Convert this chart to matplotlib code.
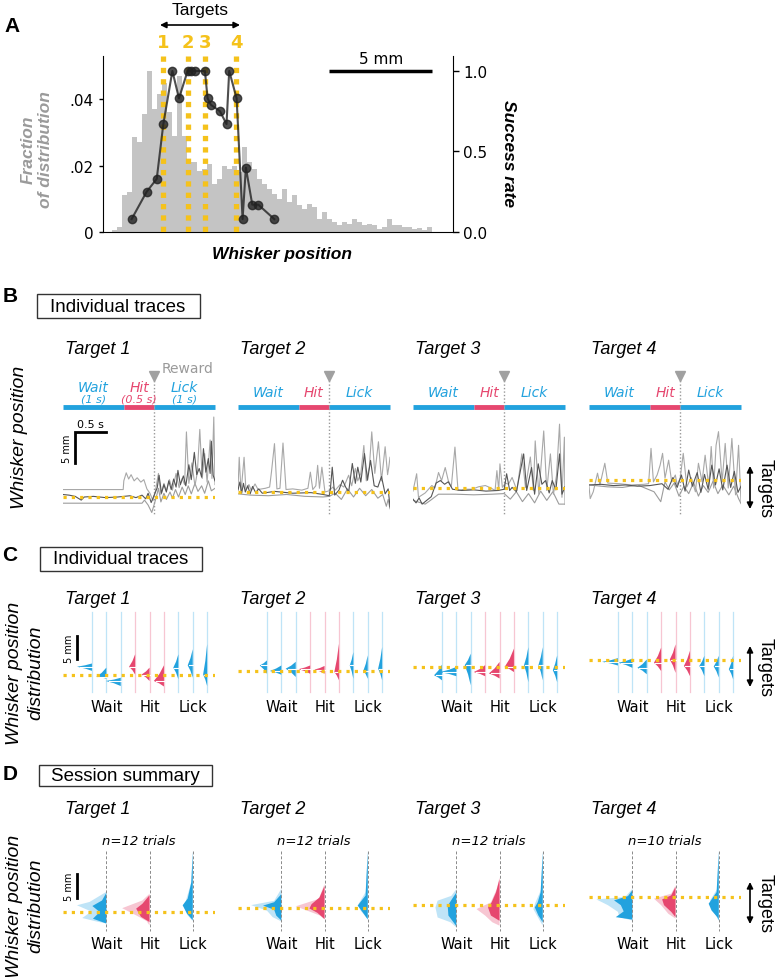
import numpy as np
import matplotlib.pyplot as plt
from matplotlib.patches import Rectangle, Polygon

W, H = 775, 978
BLUE = '#22a2de'
PINK = '#e6476f'
LBLUE = '#bfe4f7'
LPINK = '#f7c6d2'
GOLD = '#f5c21b'
HEAD = 'Liberation Sans'
BODY = 'DejaVu Sans'

plt.rcParams['font.family'] = [HEAD, 'DejaVu Sans']

# ---------------- panel A data (whisker position in mm)
hist_left = 0.42
hist_step = 0.243
hist_frac = np.array([5, 15, 110, 120, 285, 270, 355, 485, 370, 415, 450, 360, 290, 470, 290, 210,
                      210, 185, 190, 205, 145, 160, 200, 190, 200, 180, 255, 210, 190, 160, 145, 130,
                      115, 100, 130, 90, 110, 80, 70, 85, 75, 40, 60, 40, 30, 20, 30, 25,
                      40, 30, 20, 25, 20, 10, 15, 40, 20, 20, 15, 15, 10, 12, 5, 15]) * 1e-4
succ_pos = [1.39, 2.12, 2.61, 2.93, 3.37, 3.69, 4.11, 4.27, 4.47, 4.95, 5.08,
            5.24, 5.68, 6.00, 6.13, 6.49, 6.78, 6.94, 7.25, 7.54, 8.32]
succ_rate = [0.08, 0.25, 0.33, 0.67, 1.0, 0.83, 1.0, 1.0, 1.0, 1.0, 0.83,
             0.79, 0.75, 0.67, 1.0, 0.83, 0.08, 0.40, 0.17, 0.17, 0.08]
target_pos = [2.90, 4.14, 4.95, 6.46]
target_names = ['1', '2', '3', '4']

# ---------------- panel B data: (time s, position mm relative to target)
phase_names = ['Wait', 'Hit', 'Lick']
phase_edges = [0, 1.0, 1.5, 2.5]
phase_dur = ['(1 s)', '(0.5 s)', '(1 s)']
reward_t = 1.5

t1_a = [(0, 1.2), (0.99, 1.2), (1.0, 2.6), (1.04, 3.9), (1.08, 2.9), (1.12, 3.6), (1.17, 2.6), (1.22, 3.1),
        (1.28, 2.4), (1.33, 2.8), (1.38, 1.3), (1.43, 0.6), (1.48, -0.6), (1.52, 1.0), (1.57, 3.8), (1.61, 0.4),
        (1.66, 2.2), (1.7, 1.0), (1.75, 2.8), (1.8, 1.1), (1.86, 3.8), (1.91, 1.5), (1.96, 3.0), (2.0, 2.0),
        (2.03, 10.5), (2.07, 2.2), (2.12, 5.5), (2.17, 1.8), (2.21, 4.0), (2.25, 10.9), (2.29, 3.0), (2.33, 7.0),
        (2.37, 2.4), (2.42, 9.2), (2.45, 3.0), (2.48, 12.9), (2.5, 2.0)]
t1_b = [(0, 0.4), (0.1, 0.3), (0.2, 0.1), (0.3, -0.5), (0.35, 0.0), (0.5, 0.1), (0.7, -0.1), (0.9, 0.0),
        (1.1, 0.2), (1.2, -0.1), (1.3, 0.3), (1.36, -0.3), (1.4, 0.6), (1.45, -0.9), (1.5, 0.3), (1.55, 1.5),
        (1.58, 3.5), (1.62, 0.6), (1.66, 2.0), (1.7, 0.8), (1.74, 2.6), (1.78, 1.2), (1.82, 2.9), (1.86, 1.6),
        (1.89, 4.3), (1.93, 2.0), (1.98, 3.4), (2.02, 1.8), (2.07, 5.2), (2.11, 2.8), (2.16, 7.2), (2.2, 3.6),
        (2.24, 4.6), (2.28, 3.2), (2.31, 7.8), (2.35, 4.0), (2.39, 6.2), (2.42, 3.8), (2.44, 9.0), (2.47, 3.5),
        (2.5, 2.6)]
t1_c = [(0, -1.0), (1.3, -1.0), (1.34, -0.5), (1.4, -1.3), (1.46, -2.5), (1.5, -1.2), (1.54, 0.2), (1.57, 1.4),
        (1.61, -0.8), (1.66, 0.6), (1.7, -0.4), (1.76, 0.8), (1.8, -0.2), (1.85, 1.2), (1.9, 0.0), (1.96, 1.6),
        (2.01, 0.4), (2.06, 1.8), (2.11, 0.5), (2.17, 2.2), (2.22, 0.9), (2.28, 1.8), (2.33, 0.6), (2.39, 2.6),
        (2.44, 1.0), (2.5, 1.4)]

t2_a = [(0, 0.5), (0.02, 5.6), (0.05, 0.0), (0.1, 5.6), (0.13, 0.3), (0.18, 1.2), (0.22, 0.2), (0.28, 1.3),
        (0.33, 0.4), (0.45, 0.6), (0.52, 0.8), (0.55, 3.2), (0.6, 7.8), (0.64, 0.5), (0.69, 0.6), (0.74, 7.9),
        (0.79, 0.4), (0.9, 0.5), (1.05, 0.3), (1.15, 0.6), (1.19, 3.2), (1.23, 0.4), (1.28, 1.0), (1.31, 4.3),
        (1.34, 0.6), (1.38, 4.0), (1.43, 0.0), (1.5, 0.2), (1.56, 0.8), (1.6, 0.3), (1.68, 1.2), (1.74, 0.8),
        (1.82, 2.7), (1.87, 1.0), (1.93, 3.8), (1.97, 1.8), (2.02, 3.0), (2.07, 7.5), (2.11, 1.8), (2.16, 4.0),
        (2.2, 9.7), (2.25, 3.0), (2.31, 8.1), (2.36, 1.8), (2.42, 7.3), (2.46, 2.8), (2.48, 4.0), (2.5, 5.6)]
t2_b = [(0, 0.3), (0.03, 1.6), (0.06, -0.2), (0.09, 1.4), (0.12, 0.0), (0.16, 1.0), (0.2, -0.3), (0.24, 0.9),
        (0.29, -0.1), (0.34, 0.5), (0.4, -0.2), (0.6, 0.1), (0.9, -0.2), (1.2, -0.1), (1.4, -0.4), (1.5, -0.6),
        (1.52, 0.5), (1.55, 4.0), (1.59, -0.5), (1.66, 0.3), (1.72, 1.9), (1.77, 0.8), (1.82, 0.0), (1.88, 4.6),
        (1.93, 1.4), (1.97, 4.0), (2.02, 1.6), (2.08, 6.2), (2.13, 1.9), (2.18, 5.1), (2.24, 1.0), (2.3, 0.8),
        (2.36, 2.5), (2.42, -0.3), (2.47, 0.5), (2.5, -2.4)]
t2_c = [(0, -0.3), (0.2, -0.5), (0.5, -0.6), (0.8, -0.4), (1.1, -0.7), (1.4, -0.8), (1.5, -0.7), (1.6, -0.2),
        (1.7, -1.2), (1.8, 0.5), (1.9, -0.8), (2.0, 0.6), (2.1, -0.6), (2.2, 0.4), (2.3, -1.0), (2.38, -0.4),
        (2.44, -2.3), (2.47, -1.2), (2.5, -2.7)]

t3_a = [(0, -0.5), (0.06, 2.3), (0.09, -1.5), (0.2, -0.8), (0.31, 0.4), (0.36, 0.0), (0.42, 2.5), (0.47, 1.2),
        (0.53, 3.3), (0.58, 1.2), (0.63, 0.2), (0.69, 6.6), (0.74, -0.4), (0.85, -0.2), (0.97, -0.2), (1.08, 0.2),
        (1.19, 0.4), (1.28, 0.0), (1.35, -0.4), (1.38, 2.8), (1.41, -0.4), (1.43, 3.9), (1.47, 0.1), (1.52, 0.8),
        (1.57, 0.6), (1.63, 1.7), (1.71, -0.4), (1.79, 5.5), (1.85, 0.1), (1.93, 5.0), (1.98, -0.4), (2.01, 7.6),
        (2.07, -1.0), (2.15, 9.2), (2.2, -0.4), (2.26, 5.5), (2.31, -1.0), (2.36, 2.0), (2.41, 10.3), (2.45, -1.5),
        (2.49, 8.2), (2.5, -2.6)]
t3_b = [(0, -1.8), (0.05, -2.4), (0.1, -1.6), (0.15, -2.6), (0.2, -2.2), (0.3, -1.4), (0.38, 0.8), (0.45, 1.2),
        (0.52, 0.6), (0.58, 1.0), (0.65, -0.2), (0.8, -0.4), (1.0, -0.3), (1.2, -0.5), (1.4, -0.4), (1.5, -0.2),
        (1.54, 2.3), (1.59, -0.4), (1.63, 0.1), (1.7, -0.6), (1.82, 5.5), (1.87, -0.4), (1.95, 3.3), (2.0, -1.0),
        (2.06, 3.9), (2.12, 0.6), (2.18, 1.2), (2.24, -0.8), (2.29, 1.2), (2.35, -0.3), (2.41, 5.5), (2.45, -1.0),
        (2.5, 0.2)]
t3_c = [(0, -2.0), (0.1, -2.3), (0.2, -2.6), (0.3, -1.9), (0.42, -1.0), (0.7, -1.0), (1.0, -1.1), (1.3, -1.0),
        (1.5, -0.9), (1.6, -1.8), (1.7, -0.6), (1.8, -2.2), (1.9, -0.9), (2.0, -2.4), (2.1, -0.5), (2.2, -2.0),
        (2.3, -0.6), (2.4, -2.6), (2.5, -2.6)]

t4_a = [(0, -1.0), (0.02, -3.0), (0.07, -1.9), (0.14, 1.1), (0.18, -0.8), (0.26, 2.7), (0.31, -0.5), (0.5, -0.6),
        (0.7, -0.8), (0.9, -0.7), (0.98, -0.6), (1.02, 5.1), (1.06, -0.3), (1.12, 0.8), (1.17, 2.4), (1.21, 4.3),
        (1.25, 0.3), (1.31, 3.2), (1.36, -0.3), (1.42, 0.8), (1.45, -0.8), (1.5, 0.3), (1.55, 4.3), (1.61, -1.1),
        (1.68, 0.4), (1.75, -1.9), (1.8, 2.7), (1.86, -0.3), (1.91, 4.0), (1.97, -1.1), (2.01, 5.4), (2.05, -1.3),
        (2.09, 5.6), (2.13, 7.8), (2.19, -0.3), (2.24, 5.9), (2.29, -1.3), (2.35, 6.7), (2.41, -2.4), (2.46, 5.6),
        (2.5, -3.5)]
t4_b = [(0, -0.8), (0.2, -0.7), (0.4, -0.9), (0.6, -0.8), (0.8, -1.0), (1.0, -0.9), (1.2, -0.6), (1.3, -1.5),
        (1.38, 0.4), (1.45, -1.2), (1.52, 0.8), (1.58, -1.8), (1.64, 1.6), (1.7, -1.0), (1.78, 1.2), (1.84, -2.0),
        (1.9, 0.9), (1.96, -1.5), (2.02, 2.4), (2.08, -0.8), (2.14, 1.8), (2.2, -1.6), (2.27, 2.4), (2.33, -1.2),
        (2.39, 1.4), (2.45, -2.0), (2.5, -1.0)]
t4_c = [(0, -0.8), (0.3, -1.1), (0.55, -1.2), (0.8, -0.8), (1.07, -1.9), (1.18, -3.5), (1.25, -0.3), (1.32, -1.6),
        (1.4, -0.5), (1.48, -2.6), (1.56, -1.0), (1.64, -2.2), (1.72, -0.4), (1.8, -2.6), (1.88, -0.9), (1.96, -2.0),
        (2.04, -0.2), (2.12, -2.2), (2.2, -0.8), (2.3, -2.4), (2.38, -1.0), (2.46, -3.0), (2.5, -3.8)]

traces = [(t1_a, t1_b, t1_c), (t2_a, t2_b, t2_c), (t3_a, t3_b, t3_c), (t4_a, t4_b, t4_c)]

# ---------------- panel C data: per trial half violin (top, peak, bottom mm, width)
slot_phase = ['Wait'] * 3 + ['Hit'] * 3 + ['Lick'] * 3
c1 = [(2.5, 1.8, 0.9, 1.04), (1.6, -0.4, -0.8, 0.7), (-0.6, -1.3, -2.4, 1.04),
      (4.5, 1.8, 0.1, 0.42), (1.6, 0.1, -1.3, 0.55), (2.1, -1.3, -2.5, 0.7),
      (4.5, 1.6, -0.9, 0.35), (5.6, 2.1, -0.6, 0.35), (6.7, 0.1, -2.4, 0.28)]
c2 = [(2.3, 1.2, -0.6, 0.5), (1.2, 0.0, -0.8, 0.8), (2.0, 0.5, -1.3, 0.7),
      (1.2, 0.4, -0.6, 0.8), (1.1, 0.3, -0.6, 0.7), (5.9, -0.2, -2.0, 0.32),
      (4.1, 1.2, -1.7, 0.25), (3.4, 0.1, -1.7, 0.3), (5.2, 0.5, -2.0, 0.28)]
c3 = [(0.5, -1.8, -2.9, 0.55), (0.0, -1.1, -2.0, 1.15), (2.9, 0.4, -4.0, 0.42),
      (0.4, -1.1, -2.0, 0.79), (1.1, -1.4, -2.5, 0.74), (4.0, 0.0, -1.1, 0.65),
      (4.3, 0.4, -3.3, 0.3), (4.3, 0.4, -2.9, 0.3), (2.5, -0.7, -3.3, 0.3)]
c4 = [(0.4, -0.4, -1.2, 1.1), (0.3, -0.6, -1.7, 0.97), (0.1, -1.7, -3.1, 0.65),
      (2.7, -0.6, -2.4, 0.5), (3.4, 0.1, -2.8, 0.4), (2.0, -1.3, -3.5, 0.42),
      (0.9, -1.3, -3.5, 0.35), (0.9, -1.4, -3.8, 0.35), (0.9, -2.0, -4.2, 0.3)]
violins = [c1, c2, c3, c4]

# ---------------- panel D data: session outline (mm, width) for Wait / Hit / Lick
n_trials = [12, 12, 12, 10]
d1_light = [[(4.2, 0), (2.1, 1.16), (1.4, 2.04), (0.1, 1.04), (-1.25, 1.67), (-1.9, 0.8), (-2.4, 0)],
            [(3.8, 0), (2.4, 0.5), (0.8, 1.9), (-0.7, 0.93), (-1.9, 0.2), (-2.8, 0)],
            [(12.8, 0), (6.2, 0.1), (2.1, 0.5), (1.4, 0.65), (-0.7, 0.35), (-1.9, 0)]]
d1_dark = [[(4.0, 0), (2.4, 0.3), (1.25, 0.97), (0.0, 0.46), (-1.4, 0.93), (-2.4, 0)],
           [(3.5, 0), (1.7, 0.5), (0.7, 0.93), (-1.0, 0.6), (-2.1, 0)],
           [(12.5, 0), (6.2, 0.1), (2.8, 0.35), (1.4, 0.7), (-0.35, 0.4), (-1.7, 0)]]
d2_light = [[(4.0, 0), (1.5, 0.5), (0.6, 2.1), (-0.55, 1.0), (-1.9, 0.6), (-2.8, 0)],
            [(5.0, 0), (1.9, 0.4), (0.35, 2.0), (-0.55, 1.2), (-1.6, 0.3), (-2.4, 0)],
            [(12.0, 0), (3.3, 0.15), (0.8, 0.65), (-0.55, 0.5), (-2.3, 0)]]
d2_dark = [[(2.9, 0), (1.2, 0.5), (0.5, 1.27), (-0.35, 0.5), (-1.6, 0.35), (-2.6, 0)],
           [(4.6, 0), (2.2, 0.35), (0.8, 0.9), (-0.1, 1.05), (-1.0, 0.5), (-2.3, 0)],
           [(11.6, 0), (2.6, 0.15), (0.5, 0.7), (-0.9, 0.35), (-2.4, 0)]]
d3_light = [[(3.3, 0), (1.9, 0.35), (0.9, 1.3), (-0.5, 1.45), (-2.6, 1.3), (-3.6, 0.4), (-4.65, 0)],
            [(5.8, 0), (3.3, 0.2), (0.55, 0.6), (-0.85, 1.6), (-2.2, 1.0), (-3.6, 0.5), (-4.3, 0)],
            [(11.3, 0), (3.3, 0.1), (0.55, 0.5), (-0.85, 0.65), (-3.3, 0.2), (-4.3, 0)]]
d3_dark = [[(2.6, 0), (1.25, 0.3), (-0.15, 0.6), (-2.2, 0.55), (-3.6, 0.2), (-4.4, 0)],
           [(5.4, 0), (2.6, 0.25), (0.55, 0.55), (-0.5, 0.8), (-2.2, 0.6), (-3.3, 0)],
           [(11.0, 0), (2.6, 0.15), (0.55, 0.35), (-0.5, 0.55), (-2.2, 0.3), (-3.6, 0)]]
d4_light = [[(1.7, 0), (0.0, 0.5), (-0.5, 2.5), (-1.7, 1.7), (-3.1, 1.0), (-4.2, 0.9), (-4.9, 0)],
            [(2.4, 0), (0.7, 0.3), (-0.35, 1.5), (-1.7, 1.0), (-3.5, 0.5), (-4.5, 0)],
            [(9.7, 0), (1.7, 0.1), (-0.7, 0.6), (-2.4, 0.5), (-3.8, 0.2), (-4.9, 0)]]
d4_dark = [[(1.4, 0), (0.2, 0.3), (-0.7, 1.27), (-1.7, 0.8), (-3.0, 0.6), (-4.2, 1.15), (-4.7, 0)],
           [(2.1, 0), (0.35, 0.3), (-0.5, 0.93), (-1.7, 0.8), (-3.1, 0.3), (-4.2, 0)],
           [(9.4, 0), (1.0, 0.15), (-1.4, 0.7), (-2.8, 0.5), (-4.2, 0.1), (-4.9, 0)]]
summary_light = [d1_light, d2_light, d3_light, d4_light]
summary_dark = [d1_dark, d2_dark, d3_dark, d4_dark]
summary_slots = [1, 4, 7]

# ---------------- layout (pixels)
col_x0 = [63, 238, 413, 589]
col_w = 152
b_top, b_bot, b_ppm = 360, 520, 6.2
b_target = [498, 493, 489, 481]
c_top, c_bot, c_ppm = 605, 700, 4.6
c_target = [676, 672, 668, 661]
d_top, d_bot, d_ppm = 845, 940, 4.8
d_target = [913, 909, 906, 898]
slot_lim = (-2.01, -2.01 + col_w / 14.4)

fig = plt.figure(figsize=(W / 100, H / 100), dpi=100)


def px_axes(x0, y0, x1, y1):
    return fig.add_axes([x0 / W, 1 - y1 / H, (x1 - x0) / W, (y1 - y0) / H])


def ftext(x, y, s, **kw):
    return fig.text(x / W, 1 - y / H, s, **kw)


def fbox(x0, y0, x1, y1):
    fig.add_artist(Rectangle((x0 / W, 1 - y1 / H), (x1 - x0) / W, (y1 - y0) / H,
                             transform=fig.transFigure, fill=False, ec='#333333', lw=1))


def trial_axes(col, top, bot, tpx, ppm, xlim):
    ax = px_axes(col_x0[col], top, col_x0[col] + col_w, bot)
    ax.set_xlim(*xlim)
    ax.set_ylim(-(bot - tpx) / ppm, (tpx - top) / ppm)
    ax.axis('off')
    return ax


def frac(px, top, bot):
    return (bot - px) / (bot - top)


def target_arrow(y0, y1):
    fig.add_artist(plt.Annotation('', xy=(750 / W, 1 - y0 / H), xytext=(750 / W, 1 - y1 / H),
                                  xycoords='figure fraction', textcoords='figure fraction',
                                  arrowprops=dict(arrowstyle='<|-|>', color='black', lw=1.2,
                                                  mutation_scale=9, shrinkA=0, shrinkB=0)))
    ftext(765, (y0 + y1) / 2, 'Targets', rotation=-90, ha='center', va='center', fontsize=13)


# ================= Panel A
axA = px_axes(103, 57, 453, 233)
lefts = hist_left + hist_step * np.arange(len(hist_frac))
axA.bar(lefts, hist_frac, width=hist_step, align='edge', color='#c4c4c4', lw=0)
axA.set_xlim(0, 17)
axA.set_ylim(0, 0.053)
for x in target_pos:
    axA.plot([x, x], [0.053, 0], color=GOLD, lw=3.8, ls=(0, (1, 1.15)), zorder=3)
for x, name in zip(target_pos, target_names):
    axA.text(x, 1.08, name, transform=axA.get_xaxis_transform(), ha='center', va='center',
             color=GOLD, fontsize=13, fontweight='bold', family=BODY)
axA.spines[['top', 'right']].set_visible(False)
axA.set_xticks([])
axA.set_yticks([0, 0.02, 0.04])
axA.set_yticklabels(['0', '.02', '.04'], fontsize=11, family=BODY)
axA.tick_params(axis='y', length=3, width=1)

axR = axA.twinx()
axR.plot(succ_pos, succ_rate, '-o', color='#222222', lw=1.5, ms=6, alpha=0.8, zorder=4)
axR.set_ylim(0, 1.093)
axR.set_yticks([0, 0.5, 1.0])
axR.set_yticklabels(['0.0', '0.5', '1.0'], fontsize=11, family=BODY)
axR.tick_params(axis='y', length=4, width=1)
axR.spines[['top', 'left', 'bottom']].set_visible(False)
axR.plot([11.0, 16.0], [1.0, 1.0], color='black', lw=2.5, solid_capstyle='butt')
axR.text(13.5, 1.075, '5 mm', ha='center', va='center', fontsize=11, family=BODY)

ftext(12, 27, 'A', fontsize=15, fontweight='bold', ha='center', va='center')
ftext(200, 11, 'Targets', fontsize=12.5, ha='center', va='center')
fig.add_artist(plt.Annotation('', xy=(160 / W, 1 - 26 / H), xytext=(240 / W, 1 - 26 / H),
                              xycoords='figure fraction', textcoords='figure fraction',
                              arrowprops=dict(arrowstyle='<|-|>', color='black', lw=1.2,
                                              mutation_scale=9, shrinkA=0, shrinkB=0)))
ftext(37, 150, 'Fraction\nof distribution', rotation=90, ha='center', va='center',
      fontsize=12.5, fontweight='bold', style='italic', color='#9a9a9a', multialignment='center')
ftext(508, 153, 'Success rate', rotation=-90, ha='center', va='center',
      fontsize=12.5, fontweight='bold', style='italic')
ftext(282, 255, 'Whisker position', ha='center', va='center',
      fontsize=12.5, fontweight='bold', style='italic')

# ================= Panel B
ftext(10, 297, 'B', fontsize=15, fontweight='bold', ha='center', va='center')
fbox(37, 295, 200, 319)
ftext(118, 307, 'Individual traces', ha='center', va='center', fontsize=13.5)
ftext(20, 437, 'Whisker position', rotation=90, ha='center', va='center', fontsize=14, style='italic')

phase_col = [BLUE, PINK, BLUE]
for col in range(4):
    ax = trial_axes(col, b_top, b_bot, b_target[col], b_ppm, (0, 2.5))
    tr = ax.get_xaxis_transform()
    ftext(col_x0[col] + 2, 350, 'Target %d' % (col + 1), ha='left', va='center',
          fontsize=13, style='italic')
    for i in range(3):
        a, b = phase_edges[i], phase_edges[i + 1]
        ax.plot([a, b], [frac(408, b_top, b_bot)] * 2, transform=tr, color=phase_col[i],
                lw=3.5, solid_capstyle='butt', clip_on=False)
        if col == 0:
            ax.text((a + b) / 2, frac(388, b_top, b_bot), phase_names[i], transform=tr, ha='center',
                    va='center', color=phase_col[i], fontsize=10, style='italic', family=BODY)
            ax.text((a + b) / 2, frac(399.5, b_top, b_bot), phase_dur[i], transform=tr, ha='center',
                    va='center', color=phase_col[i], fontsize=8, style='italic', family=BODY)
        else:
            ax.text((a + b) / 2, frac(393, b_top, b_bot), phase_names[i], transform=tr, ha='center',
                    va='center', color=phase_col[i], fontsize=10, style='italic', family=BODY)
    ax.plot([reward_t, reward_t], [frac(378, b_top, b_bot), frac(516, b_top, b_bot)], transform=tr,
            color='#999999', lw=1, ls=(0, (1, 1.5)), clip_on=False)
    ax.plot([reward_t], [frac(377, b_top, b_bot)], transform=tr, marker='v', color='#a0a0a0',
            ms=7, clip_on=False)
    if col == 0:
        ax.text(1.62, frac(369, b_top, b_bot), 'Reward', transform=tr, ha='left', va='center',
                color='#9a9a9a', fontsize=10, family=BODY)
    light, dark, low = traces[col]
    for pts, c in ((low, '#9c9c9c'), (light, '#a8a8a8'), (dark, '#555555')):
        ax.plot([p[0] for p in pts], [p[1] for p in pts], color=c, lw=0.8, zorder=3)
    ax.plot([0, 2.5], [0, 0], color=GOLD, lw=2.3, ls=(0, (1, 1.6)), zorder=5)
    if col == 0:
        ax.plot([0.2, 0.2, 0.7], [5.5, 10.5, 10.5], color='black', lw=2, clip_on=False,
                solid_joinstyle='miter')
        ax.text(0.45, 11.0, '0.5 s', ha='center', va='bottom', fontsize=8, family=BODY)
        ax.text(0.07, 8.0, '5 mm', ha='center', va='center', rotation=90, fontsize=7, family=BODY)
target_arrow(467, 510)

# ================= Panel C
ftext(10, 556, 'C', fontsize=15, fontweight='bold', ha='center', va='center')
fbox(40, 548, 202, 572)
ftext(121, 560, 'Individual traces', ha='center', va='center', fontsize=13.5)
ftext(25, 673, 'Whisker position\ndistribution', rotation=90, ha='center', va='center',
      fontsize=14, style='italic', multialignment='center', linespacing=1.3)

for col in range(4):
    ax = trial_axes(col, c_top, c_bot, c_target[col], c_ppm, slot_lim)
    tr = ax.get_xaxis_transform()
    ftext(col_x0[col] + 2, 600, 'Target %d' % (col + 1), ha='left', va='center',
          fontsize=13, style='italic')
    for k, (top, peak, bot, w) in enumerate(violins[col]):
        hit = slot_phase[k] == 'Hit'
        ax.plot([k, k], [frac(613, c_top, c_bot), frac(693, c_top, c_bot)], transform=tr,
                color=LPINK if hit else LBLUE, lw=0.9, zorder=1)
        xy = [(k, top), (k - 0.45 * w, peak + 0.45 * (top - peak)), (k - w, peak),
              (k - 0.45 * w, peak - 0.45 * (peak - bot)), (k, bot)]
        ax.add_patch(Polygon(xy, closed=True, fc=PINK if hit else BLUE, ec='none', zorder=2))
        ax.plot([k - 0.8 * w, k], [peak, peak], color='white', lw=0.8, zorder=3)
    for k in summary_slots:
        ax.text(k, frac(707, c_top, c_bot), slot_phase[k], transform=tr, ha='center', va='center',
                fontsize=10.5, family=BODY)
    ax.plot([slot_lim[0], slot_lim[1]], [0, 0], color=GOLD, lw=2.3, ls=(0, (1, 1.6)), zorder=5)
    if col == 0:
        ax.plot([-1.04, -1.04], [3.5, 8.5], color='black', lw=2, clip_on=False)
        ax.text(-1.62, 6.0, '5 mm', ha='center', va='center', rotation=90, fontsize=7, family=BODY)
target_arrow(647, 688)

# ================= Panel D
ftext(10, 775, 'D', fontsize=15, fontweight='bold', ha='center', va='center')
fbox(39, 766, 212, 787)
ftext(125, 776.5, 'Session summary', ha='center', va='center', fontsize=13.5)
ftext(25, 906, 'Whisker position\ndistribution', rotation=90, ha='center', va='center',
      fontsize=14, style='italic', multialignment='center', linespacing=1.3)

for col in range(4):
    ax = trial_axes(col, d_top, d_bot, d_target[col], d_ppm, slot_lim)
    tr = ax.get_xaxis_transform()
    ftext(col_x0[col] + 2, 810, 'Target %d' % (col + 1), ha='left', va='center',
          fontsize=13, style='italic')
    ax.text(3.25, frac(842, d_top, d_bot), 'n=%d trials' % n_trials[col], transform=tr,
            ha='center', va='center', fontsize=9.5, style='italic', family=BODY)
    for j, k in enumerate(summary_slots):
        hit = slot_phase[k] == 'Hit'
        for pts, c in ((summary_light[col][j], LPINK if hit else LBLUE),
                       (summary_dark[col][j], PINK if hit else BLUE)):
            xy = [(k - w, y) for y, w in pts]
            ax.add_patch(Polygon(xy, closed=True, fc=c, ec='none', zorder=2))
        ax.plot([k, k], [frac(852, d_top, d_bot), frac(932, d_top, d_bot)], transform=tr,
                color='#8a8a8a', lw=0.7, ls=(0, (3, 2)), zorder=3)
        ax.text(k, frac(945, d_top, d_bot), slot_phase[k], transform=tr, ha='center', va='center',
                fontsize=10.5, family=BODY)
    ax.plot([slot_lim[0], slot_lim[1]], [0, 0], color=GOLD, lw=2.3, ls=(0, (1, 1.6)), zorder=5)
    if col == 0:
        ax.plot([-1.04, -1.04], [2.9, 7.9], color='black', lw=2, clip_on=False)
        ax.text(-1.62, 5.4, '5 mm', ha='center', va='center', rotation=90, fontsize=7, family=BODY)
target_arrow(883, 925)

fig.savefig('out.png', dpi=100)
